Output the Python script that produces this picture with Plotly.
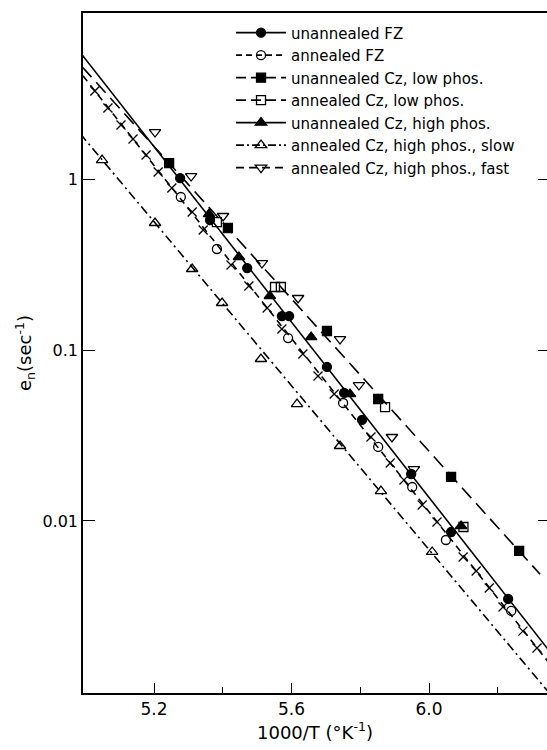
import plotly.graph_objects as go

# ---------------- data ----------------
# unannealed FZ (filled circles)
fz_un_x = [5.276, 5.363, 5.471, 5.572, 5.593, 5.703, 5.753, 5.805, 5.948, 6.064, 6.230]
fz_un_y = [1.013, 0.576, 0.3016, 0.158, 0.158, 0.0796, 0.0561, 0.0390, 0.01883, 0.00862, 0.00350]
# annealed FZ (open circles)
fz_an_x = [5.278, 5.383, 5.590, 5.750, 5.852, 5.951, 6.049, 6.239]
fz_an_y = [0.785, 0.3897, 0.1175, 0.0490, 0.0271, 0.0158, 0.00774, 0.002977]
# crosses drawn on the annealed FZ line
fz_an_cross_x = [5.028, 5.066, 5.104, 5.139, 5.177, 5.212, 5.252, 5.311, 5.343, 5.424, 5.476,
                 5.529, 5.572, 5.633, 5.677, 5.724, 5.831, 5.887, 5.927, 5.980, 6.023, 6.099,
                 6.137, 6.175, 6.215, 6.273, 6.314]
fz_an_cross_y = [3.271, 2.602, 2.069, 1.714, 1.381, 1.099, 0.886, 0.641, 0.503, 0.3141, 0.2367,
                 0.176, 0.1327, 0.0948, 0.0705, 0.0553, 0.0310, 0.02184, 0.01737, 0.0124, 0.00987,
                 0.00616, 0.0051, 0.00406, 0.00314, 0.00227, 0.00181]
# unannealed Cz, low phos. (filled squares)
cz_lo_un_x = [5.244, 5.415, 5.703, 5.852, 6.064, 6.262]
cz_lo_un_y = [1.24, 0.517, 0.1292, 0.0517, 0.01809, 0.00668]
# annealed Cz, low phos. (open squares)
cz_lo_an_x = [5.383, 5.552, 5.569, 5.872, 6.100]
cz_lo_an_y = [0.5604, 0.2336, 0.2336, 0.0464, 0.00922]
# unannealed Cz, high phos. (filled triangles)
cz_hi_un_x = [5.360, 5.447, 5.537, 5.657, 5.770, 6.093]
cz_hi_un_y = [0.624, 0.3499, 0.2069, 0.1191, 0.0553, 0.00935]
# annealed Cz, high phos., slow (open triangles up)
cz_hi_slow_x = [5.049, 5.203, 5.311, 5.398, 5.511, 5.616, 5.741, 5.860, 6.009]
cz_hi_slow_y = [1.291, 0.553, 0.2976, 0.1883, 0.0886, 0.0483, 0.02745, 0.01497, 0.00659]
# annealed Cz, high phos., fast (open triangles down)
cz_hi_fast_x = [5.203, 5.308, 5.401, 5.514, 5.619, 5.741, 5.796, 5.892, 5.956]
cz_hi_fast_y = [1.883, 1.041, 0.6077, 0.3226, 0.2014, 0.1159, 0.0624, 0.0310, 0.0201]

# fitted straight lines (end points)
fit_unannealed_x = [4.95, 6.40]          # solid: unannealed FZ / unannealed Cz high phos.
fit_unannealed_y = [6.774, 0.001292]
fit_fz_an_x = [4.95, 6.40]               # dashed with crosses: annealed FZ
fit_fz_an_y = [5.167, 0.001098]
fit_cz_lo_x = [4.95, 6.323]              # long dash: Cz low phos. / fast
fit_cz_lo_y = [5.596, 0.004876]
fit_cz_slow_x = [4.95, 6.40]             # dash-dot: slow
fit_cz_slow_y = [2.238, 0.000746]

series_names = ["unannealed FZ", "annealed FZ", "unannealed Cz, low phos.",
                "annealed Cz, low phos.", "unannealed Cz, high phos.",
                "annealed Cz, high phos., slow", "annealed Cz, high phos., fast"]

x_ticks = [5.2, 5.6, 6.0]
x_ticktext = ["5.2", "5.6", "6.0"]
x_minor = [5.4, 5.8, 6.2]
y_ticks = [1, 0.1, 0.01]
y_ticktext = ["1", "0.1", "0.01"]

FONT = "DejaVu Sans"
BLK = "black"


def gapped(xs, ys):
    gx, gy = [], []
    for a, b in zip(xs, ys):
        gx += [a, None]
        gy += [b, None]
    return gx, gy


fig = go.Figure()

series = [
    (fz_un_x, fz_un_y, "circle", "solid", 9),
    (fz_an_x, fz_an_y, "circle-open", "6px,4px", 9),
    (cz_lo_un_x, cz_lo_un_y, "square", "10px,5px", 9),
    (cz_lo_an_x, cz_lo_an_y, "square-open", "10px,5px", 9),
    (cz_hi_un_x, cz_hi_un_y, "triangle-up", "solid", 10),
    (cz_hi_slow_x, cz_hi_slow_y, "triangle-up-open", "8px,3px,2px,3px", 10),
    (cz_hi_fast_x, cz_hi_fast_y, "triangle-down-open", "8px,5px", 10),
]
for (xs, ys, sym, dash, sz), name in zip(series, series_names):
    gx, gy = gapped(xs, ys)
    fig.add_trace(go.Scatter(
        x=gx, y=gy, mode="lines+markers", name=name, connectgaps=False,
        line=dict(color=BLK, width=1.6, dash=dash),
        marker=dict(symbol=sym, size=sz, color=BLK, line=dict(color=BLK, width=1.3)),
    ))

fits = [
    (fit_unannealed_x, fit_unannealed_y, "solid"),
    (fit_fz_an_x, fit_fz_an_y, "7px,5px"),
    (fit_cz_lo_x, fit_cz_lo_y, "14px,7px"),
    (fit_cz_slow_x, fit_cz_slow_y, "9px,4px,2px,4px"),
]
for xs, ys, dash in fits:
    fig.add_trace(go.Scatter(x=xs, y=ys, mode="lines", showlegend=False,
                             line=dict(color=BLK, width=1.6, dash=dash), hoverinfo="skip"))

fig.add_trace(go.Scatter(x=fz_an_cross_x, y=fz_an_cross_y, mode="markers", showlegend=False,
                         marker=dict(symbol="x-thin", size=9, line=dict(color=BLK, width=1.3))))

# invisible helper on the right axis for mirrored ticks
fig.add_trace(go.Scatter(x=[x_ticks[0]], y=[y_ticks[0]], yaxis="y2", mode="markers",
                         marker=dict(opacity=0), showlegend=False, hoverinfo="skip"))

fig.update_layout(
    width=547, height=750,
    margin=dict(l=83, r=0, t=13, b=57),
    paper_bgcolor="white", plot_bgcolor="white",
    font=dict(family=FONT, size=16, color=BLK),
    showlegend=True,
    legend=dict(x=0.319, xanchor="left", y=0.995, yanchor="top", bgcolor="rgba(0,0,0,0)",
                font=dict(size=15, family=FONT), itemwidth=50, traceorder="normal"),
    xaxis=dict(range=[4.9935, 6.343], showgrid=False, zeroline=False, showline=True,
               linecolor=BLK, linewidth=1.6, mirror=True, ticks="inside", ticklen=10,
               tickwidth=1.4, tickcolor=BLK, tickmode="array", tickvals=x_ticks,
               ticktext=x_ticktext, tickfont=dict(size=17),
               minor=dict(tickvals=x_minor, ticks="inside", ticklen=6, tickwidth=1.4,
                          tickcolor=BLK),
               title=dict(text="1000/T (°K<sup>-1</sup>)", standoff=8,
                          font=dict(size=18))),
    yaxis=dict(type="log", range=[-3.006, 0.971], showgrid=False, zeroline=False,
               showline=True, linecolor=BLK, linewidth=1.6, ticks="inside", ticklen=12,
               tickwidth=1.4, tickcolor=BLK, tickmode="array", tickvals=y_ticks,
               ticktext=y_ticktext, tickfont=dict(size=16),
               title=dict(text="e<sub>n</sub>(sec<sup>-1</sup>)", standoff=6,
                          font=dict(size=18))),
    yaxis2=dict(type="log", range=[-3.006, 0.971], overlaying="y", side="right",
                showgrid=False, zeroline=False, showline=False, ticks="inside", ticklen=9,
                tickwidth=1.4, tickcolor=BLK, tickmode="array", tickvals=y_ticks,
                showticklabels=False),
)

fig.write_html("out.html")
